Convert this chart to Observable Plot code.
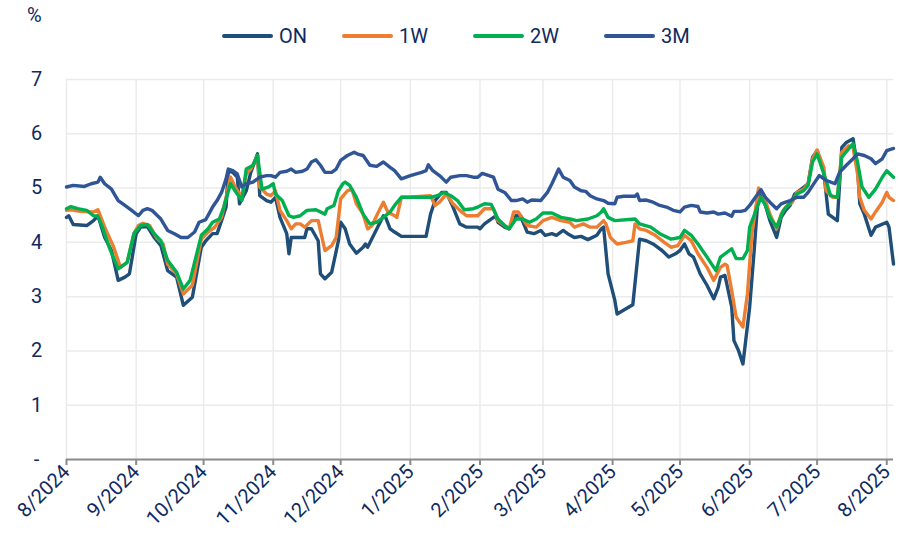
<!DOCTYPE html>
<html>
<head>
<meta charset="utf-8">
<script src="https://cdn.jsdelivr.net/npm/d3@7"></script>
<script src="https://cdn.jsdelivr.net/npm/@observablehq/plot@0.6"></script>
<style>
  html, body { margin: 0; padding: 0; background: #ffffff; }
  #wrap { position: relative; width: 899px; height: 537px; font-family: Roboto, "Noto Sans", sans-serif; color: #0f2a5e; overflow: hidden; }
  #unit { position: absolute; left: 27px; top: 3px; font-size: 20px; line-height: 24px; }
  .leg { position: absolute; top: 24px; height: 24px; display: flex; align-items: center; font-size: 20px; line-height: 24px; }
  .sw { width: 51px; height: 4px; border-radius: 2px; margin-right: 6px; }
  #chart { position: absolute; left: 0; top: 60px; }
</style>
</head>
<body>
<div id="wrap">
  <div id="unit">%</div>
  <div id="legend"></div>
  <div id="chart"></div>
</div>
<script>
// ---------------- data ----------------
const seriesNames = ["ON", "1W", "2W", "3M"];
const seriesColors = ["#1f4e79", "#ed7d31", "#00b050", "#2f5597"];

const monthTicks = ["2024-08-01","2024-09-01","2024-10-01","2024-11-01","2024-12-01","2025-01-01",
  "2025-02-01","2025-03-01","2025-04-01","2025-05-01","2025-06-01","2025-07-01","2025-08-01"];
const monthLabels = ["8/2024","9/2024","10/2024","11/2024","12/2024","1/2025","2/2025",
  "3/2025","4/2025","5/2025","6/2025","7/2025","8/2025"];
const yTicks = [0, 1, 2, 3, 4, 5, 6, 7];
const yLabels = ["-", "1", "2", "3", "4", "5", "6", "7"];

const ON = [
["2024-08-01",4.46],["2024-08-02",4.49],["2024-08-04",4.33],["2024-08-10",4.31],["2024-08-13",4.40],
["2024-08-15",4.49],["2024-08-18",4.09],["2024-08-21",3.85],["2024-08-24",3.30],["2024-08-27",3.36],
["2024-08-29",3.42],["2024-09-01",4.16],["2024-09-03",4.28],["2024-09-06",4.29],["2024-09-09",4.09],
["2024-09-12",3.94],["2024-09-15",3.48],["2024-09-19",3.36],["2024-09-22",2.84],["2024-09-26",2.99],
["2024-09-30",3.91],["2024-10-02",4.03],["2024-10-05",4.16],["2024-10-07",4.16],["2024-10-09",4.40],
["2024-10-11",4.65],["2024-10-12",5.32],["2024-10-14",5.29],["2024-10-16",5.20],["2024-10-17",4.71],
["2024-10-20",4.95],["2024-10-22",5.29],["2024-10-25",5.63],["2024-10-26",4.86],["2024-10-29",4.77],
["2024-10-31",4.74],["2024-11-02",4.83],["2024-11-04",4.46],["2024-11-07",4.16],["2024-11-08",3.79],
["2024-11-09",4.09],["2024-11-12",4.09],["2024-11-15",4.09],["2024-11-16",4.25],["2024-11-18",4.25],
["2024-11-21",4.03],["2024-11-22",3.42],["2024-11-24",3.33],["2024-11-27",3.45],["2024-11-30",4.03],
["2024-12-01",4.37],["2024-12-03",4.25],["2024-12-05",3.97],["2024-12-08",3.80],["2024-12-11",3.91],
["2024-12-12",3.97],["2024-12-13",3.91],["2024-12-16",4.16],["2024-12-20",4.49],["2024-12-21",4.46],
["2024-12-23",4.25],["2024-12-25",4.19],["2024-12-28",4.11],["2025-01-08",4.11],["2025-01-10",4.52],
["2025-01-12",4.77],["2025-01-15",4.92],["2025-01-17",4.92],["2025-01-20",4.65],["2025-01-23",4.34],
["2025-01-26",4.28],["2025-01-31",4.28],["2025-02-01",4.25],["2025-02-03",4.34],["2025-02-05",4.40],
["2025-02-08",4.49],["2025-02-09",4.37],["2025-02-12",4.28],["2025-02-14",4.25],["2025-02-17",4.49],
["2025-02-19",4.49],["2025-02-22",4.19],["2025-02-25",4.16],["2025-02-28",4.22],["2025-03-02",4.13],
["2025-03-05",4.16],["2025-03-07",4.13],["2025-03-10",4.22],["2025-03-12",4.16],["2025-03-15",4.09],
["2025-03-18",4.11],["2025-03-21",4.05],["2025-03-25",4.13],["2025-03-27",4.25],["2025-03-28",4.28],
["2025-03-30",3.42],["2025-04-02",2.93],["2025-04-03",2.68],["2025-04-10",2.85],["2025-04-13",4.06],
["2025-04-16",4.03],["2025-04-19",3.97],["2025-04-23",3.85],["2025-04-26",3.73],["2025-04-29",3.79],
["2025-05-01",3.85],["2025-05-03",3.97],["2025-05-05",3.79],["2025-05-07",3.73],["2025-05-10",3.42],
["2025-05-13",3.21],["2025-05-16",2.96],["2025-05-18",3.17],["2025-05-19",3.36],["2025-05-21",3.39],
["2025-05-24",2.81],["2025-05-25",2.19],["2025-05-27",2.01],["2025-05-29",1.76],["2025-06-01",2.81],
["2025-06-03",3.85],["2025-06-05",4.98],["2025-06-07",4.83],["2025-06-10",4.40],["2025-06-13",4.09],
["2025-06-15",4.46],["2025-06-17",4.59],["2025-06-19",4.68],["2025-06-21",4.89],["2025-06-24",4.98],
["2025-06-27",5.08],["2025-06-29",5.57],["2025-07-01",5.69],["2025-07-04",5.29],["2025-07-06",4.52],
["2025-07-08",4.46],["2025-07-10",4.40],["2025-07-12",5.75],["2025-07-14",5.84],["2025-07-17",5.91],
["2025-07-19",5.38],["2025-07-20",4.71],["2025-07-22",4.52],["2025-07-25",4.13],["2025-07-27",4.28],
["2025-08-01",4.37],["2025-08-02",4.28],["2025-08-04",3.60]
];

const W1 = [
["2024-08-01",4.59],["2024-08-03",4.60],["2024-08-07",4.57],["2024-08-13",4.56],["2024-08-15",4.60],
["2024-08-18",4.28],["2024-08-22",3.91],["2024-08-25",3.54],["2024-08-28",3.63],["2024-08-31",4.16],
["2024-09-02",4.31],["2024-09-04",4.35],["2024-09-07",4.31],["2024-09-10",4.09],["2024-09-13",3.97],
["2024-09-15",3.60],["2024-09-19",3.42],["2024-09-22",3.05],["2024-09-26",3.21],["2024-09-30",4.06],
["2024-10-03",4.19],["2024-10-06",4.28],["2024-10-09",4.46],["2024-10-11",4.83],["2024-10-13",5.20],
["2024-10-15",5.02],["2024-10-18",4.83],["2024-10-20",5.26],["2024-10-22",5.35],["2024-10-25",5.60],
["2024-10-26",5.02],["2024-10-29",4.89],["2024-10-31",4.86],["2024-11-02",4.95],["2024-11-04",4.59],
["2024-11-07",4.40],["2024-11-09",4.25],["2024-11-11",4.34],["2024-11-13",4.34],["2024-11-15",4.28],
["2024-11-18",4.40],["2024-11-21",4.40],["2024-11-24",3.85],["2024-11-27",3.94],["2024-11-29",4.09],
["2024-12-01",4.80],["2024-12-04",4.95],["2024-12-06",4.98],["2024-12-08",4.71],["2024-12-11",4.52],
["2024-12-13",4.25],["2024-12-15",4.31],["2024-12-17",4.49],["2024-12-20",4.74],["2024-12-22",4.56],
["2024-12-25",4.49],["2024-12-26",4.46],["2024-12-28",4.83],["2024-12-31",4.83],["2025-01-10",4.86],
["2025-01-12",4.68],["2025-01-14",4.74],["2025-01-17",4.89],["2025-01-20",4.71],["2025-01-23",4.59],
["2025-01-26",4.49],["2025-01-31",4.49],["2025-02-03",4.62],["2025-02-07",4.62],["2025-02-09",4.40],
["2025-02-12",4.31],["2025-02-14",4.25],["2025-02-16",4.56],["2025-02-18",4.56],["2025-02-22",4.31],
["2025-02-26",4.28],["2025-03-01",4.40],["2025-03-05",4.46],["2025-03-09",4.40],["2025-03-13",4.37],
["2025-03-15",4.28],["2025-03-19",4.34],["2025-03-22",4.28],["2025-03-25",4.28],["2025-03-28",4.40],
["2025-03-29",4.34],["2025-03-31",4.09],["2025-04-03",3.97],["2025-04-07",4.00],["2025-04-10",4.03],
["2025-04-11",4.34],["2025-04-13",4.25],["2025-04-16",4.22],["2025-04-20",4.13],["2025-04-24",4.00],
["2025-04-27",3.91],["2025-04-30",3.94],["2025-05-03",4.13],["2025-05-06",4.03],["2025-05-09",3.79],
["2025-05-13",3.54],["2025-05-16",3.30],["2025-05-19",3.54],["2025-05-21",3.60],["2025-05-22",3.57],
["2025-05-24",3.11],["2025-05-26",2.62],["2025-05-29",2.44],["2025-05-31",3.05],["2025-06-02",4.16],
["2025-06-05",5.00],["2025-06-07",4.89],["2025-06-10",4.52],["2025-06-13",4.25],["2025-06-15",4.52],
["2025-06-17",4.65],["2025-06-20",4.74],["2025-06-22",4.92],["2025-06-25",4.98],["2025-06-27",5.08],
["2025-06-29",5.54],["2025-07-01",5.70],["2025-07-04",5.38],["2025-07-05",4.95],["2025-07-08",4.83],
["2025-07-10",4.83],["2025-07-12",5.66],["2025-07-15",5.78],["2025-07-17",5.75],["2025-07-19",5.26],
["2025-07-20",4.83],["2025-07-22",4.59],["2025-07-25",4.43],["2025-07-27",4.56],["2025-07-30",4.74],
["2025-08-01",4.92],["2025-08-02",4.83],["2025-08-04",4.77]
];

const W2 = [
["2024-08-01",4.62],["2024-08-03",4.66],["2024-08-06",4.62],["2024-08-10",4.59],["2024-08-13",4.49],
["2024-08-15",4.48],["2024-08-17",4.28],["2024-08-20",3.91],["2024-08-24",3.51],["2024-08-28",3.63],
["2024-08-31",4.16],["2024-09-03",4.31],["2024-09-06",4.33],["2024-09-09",4.16],["2024-09-12",4.03],
["2024-09-15",3.67],["2024-09-19",3.45],["2024-09-22",3.14],["2024-09-25",3.30],["2024-09-30",4.13],
["2024-10-03",4.25],["2024-10-05",4.37],["2024-10-08",4.43],["2024-10-10",4.65],["2024-10-13",5.08],
["2024-10-15",4.95],["2024-10-18",4.77],["2024-10-20",5.35],["2024-10-23",5.42],["2024-10-25",5.60],
["2024-10-27",4.98],["2024-10-30",5.02],["2024-11-01",5.08],["2024-11-02",4.89],["2024-11-05",4.77],
["2024-11-08",4.49],["2024-11-10",4.46],["2024-11-13",4.49],["2024-11-16",4.59],["2024-11-20",4.60],
["2024-11-24",4.52],["2024-11-25",4.62],["2024-11-28",4.68],["2024-11-30",4.95],["2024-12-02",5.08],
["2024-12-03",5.11],["2024-12-05",5.05],["2024-12-08",4.83],["2024-12-11",4.52],["2024-12-14",4.34],
["2024-12-17",4.37],["2024-12-20",4.46],["2024-12-23",4.56],["2024-12-25",4.68],["2024-12-28",4.83],
["2025-01-10",4.83],["2025-01-13",4.86],["2025-01-16",4.92],["2025-01-19",4.86],["2025-01-22",4.77],
["2025-01-25",4.60],["2025-01-29",4.62],["2025-01-31",4.65],["2025-02-03",4.71],["2025-02-06",4.70],
["2025-02-09",4.43],["2025-02-12",4.31],["2025-02-14",4.25],["2025-02-17",4.43],["2025-02-20",4.43],
["2025-02-23",4.37],["2025-02-26",4.43],["2025-03-01",4.54],["2025-03-05",4.54],["2025-03-09",4.46],
["2025-03-13",4.43],["2025-03-16",4.40],["2025-03-21",4.43],["2025-03-25",4.49],["2025-03-27",4.56],
["2025-03-28",4.62],["2025-03-30",4.46],["2025-04-02",4.40],["2025-04-11",4.43],["2025-04-13",4.34],
["2025-04-18",4.28],["2025-04-22",4.16],["2025-04-27",4.06],["2025-05-01",4.09],["2025-05-03",4.22],
["2025-05-06",4.13],["2025-05-09",3.97],["2025-05-13",3.73],["2025-05-17",3.48],["2025-05-19",3.73],
["2025-05-24",3.88],["2025-05-26",3.70],["2025-05-29",3.70],["2025-05-31",3.85],["2025-06-01",4.28],
["2025-06-06",4.83],["2025-06-08",4.68],["2025-06-10",4.46],["2025-06-13",4.28],["2025-06-16",4.59],
["2025-06-18",4.68],["2025-06-22",4.89],["2025-06-25",4.95],["2025-06-27",5.05],["2025-06-29",5.48],
["2025-07-01",5.63],["2025-07-05",5.14],["2025-07-07",4.86],["2025-07-10",4.83],["2025-07-12",5.57],
["2025-07-15",5.72],["2025-07-17",5.82],["2025-07-19",5.48],["2025-07-21",5.02],["2025-07-24",4.83],
["2025-07-27",4.98],["2025-07-30",5.20],["2025-08-01",5.32],["2025-08-04",5.20]
];

const M3 = [
["2024-08-01",5.02],["2024-08-04",5.05],["2024-08-09",5.03],["2024-08-12",5.08],["2024-08-15",5.11],
["2024-08-16",5.20],["2024-08-18",5.08],["2024-08-21",4.98],["2024-08-24",4.77],["2024-08-27",4.68],
["2024-08-30",4.59],["2024-09-02",4.49],["2024-09-04",4.59],["2024-09-06",4.62],["2024-09-08",4.59],
["2024-09-12",4.43],["2024-09-15",4.22],["2024-09-18",4.16],["2024-09-21",4.09],["2024-09-24",4.09],
["2024-09-27",4.19],["2024-09-29",4.37],["2024-10-02",4.42],["2024-10-05",4.65],["2024-10-07",4.77],
["2024-10-09",4.92],["2024-10-11",5.17],["2024-10-12",5.35],["2024-10-14",5.32],["2024-10-16",5.26],
["2024-10-18",5.02],["2024-10-20",5.08],["2024-10-23",5.11],["2024-10-26",5.20],["2024-10-29",5.23],
["2024-10-31",5.23],["2024-11-02",5.20],["2024-11-04",5.29],["2024-11-07",5.31],["2024-11-09",5.35],
["2024-11-11",5.29],["2024-11-14",5.31],["2024-11-16",5.35],["2024-11-18",5.48],["2024-11-20",5.52],
["2024-11-22",5.42],["2024-11-24",5.29],["2024-11-27",5.29],["2024-11-29",5.35],["2024-12-01",5.51],
["2024-12-04",5.60],["2024-12-07",5.66],["2024-12-09",5.62],["2024-12-11",5.60],["2024-12-14",5.42],
["2024-12-17",5.40],["2024-12-20",5.48],["2024-12-23",5.38],["2024-12-25",5.32],["2024-12-28",5.17],
["2025-01-01",5.23],["2025-01-06",5.29],["2025-01-08",5.32],["2025-01-09",5.43],["2025-01-11",5.32],
["2025-01-14",5.23],["2025-01-17",5.11],["2025-01-19",5.20],["2025-01-23",5.23],["2025-01-26",5.23],
["2025-01-29",5.20],["2025-01-31",5.20],["2025-02-02",5.27],["2025-02-07",5.20],["2025-02-09",4.98],
["2025-02-12",4.92],["2025-02-15",4.77],["2025-02-17",4.77],["2025-02-20",4.80],["2025-02-22",4.74],
["2025-02-24",4.78],["2025-02-28",4.77],["2025-03-03",4.92],["2025-03-05",5.08],["2025-03-07",5.26],
["2025-03-08",5.35],["2025-03-10",5.20],["2025-03-13",5.14],["2025-03-15",5.02],["2025-03-18",4.95],
["2025-03-20",4.94],["2025-03-22",4.86],["2025-03-25",4.80],["2025-03-28",4.77],["2025-03-30",4.72],
["2025-04-02",4.71],["2025-04-03",4.83],["2025-04-06",4.85],["2025-04-11",4.85],["2025-04-12",4.89],
["2025-04-13",4.77],["2025-04-16",4.78],["2025-04-19",4.74],["2025-04-22",4.68],["2025-04-25",4.65],
["2025-04-28",4.59],["2025-05-01",4.56],["2025-05-03",4.65],["2025-05-06",4.68],["2025-05-09",4.66],
["2025-05-10",4.56],["2025-05-13",4.54],["2025-05-16",4.56],["2025-05-18",4.52],["2025-05-21",4.54],
["2025-05-24",4.48],["2025-05-25",4.57],["2025-05-28",4.57],["2025-05-30",4.59],["2025-06-01",4.68],
["2025-06-03",4.80],["2025-06-06",4.97],["2025-06-08",4.83],["2025-06-10",4.74],["2025-06-13",4.62],
["2025-06-15",4.71],["2025-06-17",4.74],["2025-06-19",4.77],["2025-06-22",4.83],["2025-06-25",4.83],
["2025-06-27",4.92],["2025-06-30",5.11],["2025-07-02",5.23],["2025-07-05",5.14],["2025-07-09",5.08],
["2025-07-11",5.29],["2025-07-14",5.42],["2025-07-17",5.54],["2025-07-19",5.63],["2025-07-22",5.60],
["2025-07-25",5.54],["2025-07-27",5.45],["2025-07-30",5.54],["2025-08-01",5.69],["2025-08-04",5.73]
];

// ---------------- build ----------------
const seriesData = [ON, W1, W2, M3];
const rows = [];
seriesData.forEach((arr, i) => arr.forEach(([d, v]) => rows.push({series: seriesNames[i], date: new Date(d), value: v})));
const tickDates = monthTicks.map(d => new Date(d));
const labelOf = new Map(tickDates.map((d, i) => [+d, monthLabels[i]]));

const textColor = "#0f2a5e";
const gridColor = "#ebebeb";

const chart = Plot.plot({
  width: 899,
  height: 477,
  marginLeft: 66,
  marginRight: 6,
  marginTop: 19,
  marginBottom: 78,
  style: {fontFamily: "Roboto, 'Noto Sans', sans-serif", fontSize: "20px", color: textColor, background: "transparent"},
  x: {type: "utc", domain: [new Date("2024-08-01"), new Date("2025-08-04")]},
  y: {domain: [0, 7]},
  color: {domain: seriesNames, range: seriesColors},
  marks: [
    Plot.gridY(yTicks.slice(1), {stroke: gridColor, strokeOpacity: 1, strokeWidth: 1.5}),
    Plot.gridX(tickDates, {stroke: gridColor, strokeOpacity: 1, strokeWidth: 1.5}),
    Plot.ruleY([0], {stroke: "#8a8a8a", strokeWidth: 2}),
    Plot.axisX(tickDates, {
      tickFormat: d => labelOf.get(+d), tickRotate: -45, tickSize: 6, tickPadding: 3,
      stroke: "#8a8a8a", strokeWidth: 2, fill: textColor, fontSize: 20, label: null
    }),
    Plot.axisY(yTicks, {
      tickFormat: (d, i) => yLabels[yTicks.indexOf(d)], tickSize: 0, tickPadding: 30,
      textAnchor: "middle", fill: textColor, fontSize: 20, label: null
    }),
    Plot.line(rows, {x: "date", y: "value", z: "series", stroke: "series", strokeWidth: 3.4, strokeLinejoin: "round", strokeLinecap: "round"})
  ]
});
document.getElementById("chart").appendChild(chart);

// legend (HTML, above the SVG)
const legendLeft = [222, 342, 473, 604];
const legend = document.getElementById("legend");
seriesNames.forEach((name, i) => {
  const item = document.createElement("div");
  item.className = "leg";
  item.style.left = legendLeft[i] + "px";
  const sw = document.createElement("div");
  sw.className = "sw";
  sw.style.background = seriesColors[i];
  const tx = document.createElement("span");
  tx.textContent = name;
  item.appendChild(sw);
  item.appendChild(tx);
  legend.appendChild(item);
});
</script>
</body>
</html>
